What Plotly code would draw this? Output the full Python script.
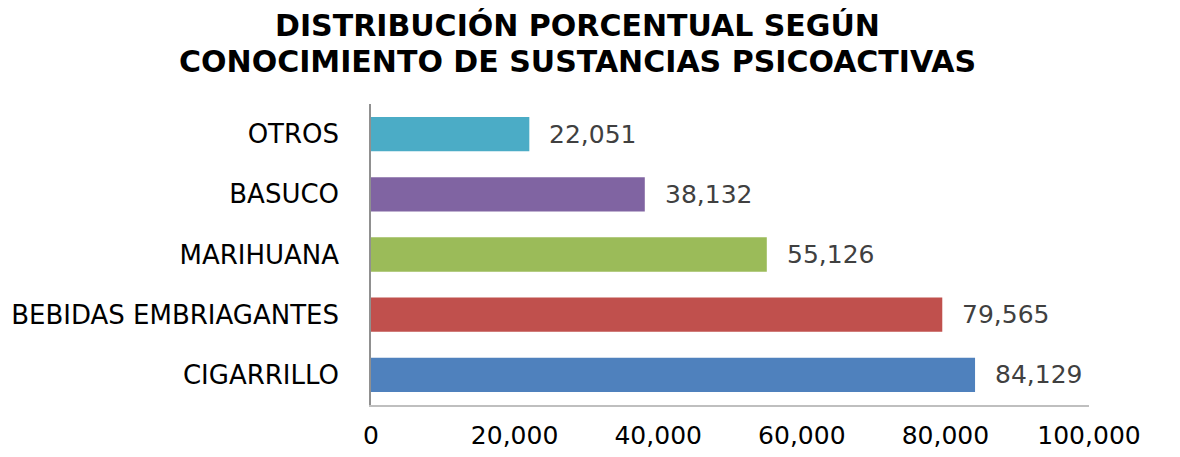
import plotly.graph_objects as go

categories = ["CIGARRILLO", "BEBIDAS EMBRIAGANTES", "MARIHUANA", "BASUCO", "OTROS"]
values = [84129, 79565, 55126, 38132, 22051]
value_labels = ["84,129", "79,565", "55,126", "38,132", "22,051"]
colors = ["#4F81BD", "#C0504D", "#9BBB59", "#8064A2", "#4BACC6"]
tick_vals = [0, 20000, 40000, 60000, 80000, 100000]
tick_text = ["0", "20,000", "40,000", "60,000", "80,000", "100,000"]
title_lines = ["DISTRIBUCIÓN PORCENTUAL SEGÚN", "CONOCIMIENTO DE SUSTANCIAS PSICOACTIVAS"]

# page body adds an 8px offset; layout numbers compensate for it
L, R, T, B = 363, 99, 96, 60
W, H = 1180, 457
plot_h = H - T - B
plot_w = W - L - R

fig = go.Figure()
fig.add_trace(go.Bar(
    x=values, y=categories, orientation="h",
    marker=dict(color=colors, line=dict(width=0)),
    width=0.57, hoverinfo="skip",
))
for v, c, t in zip(values, categories, value_labels):
    fig.add_annotation(x=v, y=c, text=t, showarrow=False, xanchor="left",
                       xshift=18, font=dict(family="DejaVu Sans", size=25, color="#404040"))

for line, py in zip(title_lines, [17, 54]):
    fig.add_annotation(text="<b>" + line + "</b>", xref="paper", yref="paper",
                       x=(569 - L) / plot_w, y=(H - B - py) / plot_h,
                       xanchor="center", yanchor="middle", showarrow=False,
                       font=dict(family="DejaVu Sans", size=30, color="#000000"))

fig.update_layout(
    width=W, height=H,
    margin=dict(l=L, r=R, t=T, b=B),
    paper_bgcolor="white", plot_bgcolor="white",
    showlegend=False,
    xaxis=dict(range=[0, 100000], tickvals=tick_vals, ticktext=tick_text,
               showgrid=False, zeroline=False, showline=True, linecolor="#BFBFBF", linewidth=1.5,
               ticks="", ticklabelstandoff=7, automargin=False,
               tickfont=dict(family="DejaVu Sans", size=25, color="#000000")),
    yaxis=dict(showgrid=False, zeroline=False, showline=True, linecolor="#909090", linewidth=1.5,
               ticks="", automargin=False, ticklabelstandoff=25,
               tickfont=dict(family="DejaVu Sans", size=26, color="#000000")),
)
fig.write_html("out.html")
